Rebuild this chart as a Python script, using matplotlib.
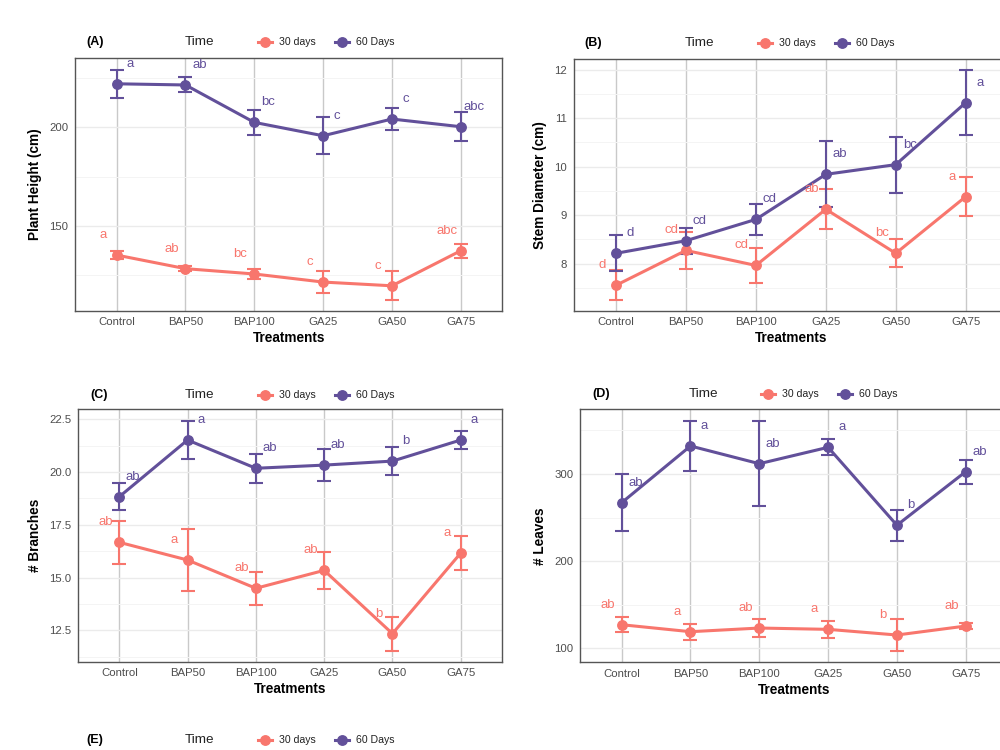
import matplotlib
matplotlib.use('Agg')
import matplotlib.pyplot as plt
from matplotlib.lines import Line2D
from matplotlib.ticker import MultipleLocator

plt.rcParams['font.family'] = ['Liberation Sans', 'DejaVu Sans']

treatments = ['Control', 'BAP50', 'BAP100', 'GA25', 'GA50', 'GA75']
series_names = ['30 days', '60 Days']

height_30 = [135.1, 128.2, 125.5, 121.4, 119.5, 137.3]
height_30_se = [2.0, 1.4, 2.7, 5.5, 7.4, 3.5]
height_60 = [222.1, 221.5, 202.5, 195.7, 204.2, 200.3]
height_60_se = [7.0, 3.8, 6.5, 9.3, 5.8, 7.4]
height_30_let = ['a', 'ab', 'bc', 'c', 'c', 'abc']
height_60_let = ['a', 'ab', 'bc', 'c', 'c', 'abc']

stem_30 = [7.55, 8.27, 7.96, 9.12, 8.21, 9.38]
stem_30_se = [0.31, 0.39, 0.37, 0.41, 0.29, 0.41]
stem_60 = [8.21, 8.47, 8.91, 9.84, 10.04, 11.32]
stem_60_se = [0.37, 0.27, 0.32, 0.68, 0.58, 0.67]
stem_30_let = ['d', 'cd', 'cd', 'ab', 'bc', 'a']
stem_60_let = ['d', 'cd', 'cd', 'ab', 'bc', 'a']

branch_30 = [16.67, 15.83, 14.49, 15.34, 12.34, 16.16]
branch_30_se = [1.02, 1.45, 0.77, 0.87, 0.80, 0.80]
branch_60 = [18.83, 21.52, 20.18, 20.33, 20.52, 21.52]
branch_60_se = [0.65, 0.90, 0.70, 0.75, 0.67, 0.43]
branch_30_let = ['ab', 'a', 'ab', 'ab', 'b', 'a']
branch_60_let = ['ab', 'a', 'ab', 'ab', 'b', 'a']

leaves_30 = [127.1, 119.1, 123.3, 121.8, 115.3, 125.6]
leaves_30_se = [8.6, 9.0, 10.0, 9.7, 18.0, 3.4]
leaves_60 = [267.1, 332.1, 311.8, 330.6, 241.2, 302.7]
leaves_60_se = [33.0, 29.0, 48.7, 9.0, 18.0, 13.8]
leaves_30_let = ['ab', 'a', 'ab', 'a', 'b', 'ab']
leaves_60_let = ['ab', 'a', 'ab', 'a', 'b', 'ab']

C30 = '#F8766D'
C60 = '#62509A'

W, H = 1000, 750
fig = plt.figure(figsize=(10, 7.5), dpi=100)


def px_rect(left, top, right, bottom):
    return [left / W, 1 - bottom / H, (right - left) / W, (bottom - top) / H]


def panel(rect, m30, s30, l30, m60, s60, l60, ylabel, ylim, major, minor):
    ax = fig.add_axes(rect)
    x = list(range(len(treatments)))
    for m, s, lets, c, dx in ((m30, s30, l30, C30, -0.2), (m60, s60, l60, C60, 0.2)):
        ax.errorbar(x, m, yerr=s, color=c, lw=2.2, marker='o', ms=6.8,
                    elinewidth=1.5, capsize=4.8, capthick=1.5, zorder=3)
        for i, t in enumerate(lets):
            ax.annotate(t, (i + dx, m[i]), xytext=(0, 14.4), textcoords='offset points',
                        ha='center', va='center', color=c, fontsize=9.5, zorder=4)
    ax.set_xlim(-0.6, len(treatments) - 0.4)
    ax.set_ylim(*ylim)
    ax.set_xticks(x)
    ax.set_xticklabels(treatments)
    ax.yaxis.set_major_locator(MultipleLocator(major))
    ax.yaxis.set_minor_locator(MultipleLocator(minor))
    ax.tick_params(which='both', length=0, colors='#4D4D4D', labelsize=8.2)
    ax.tick_params(axis='x', pad=4.5)
    ax.tick_params(axis='y', pad=5)
    ax.xaxis.grid(True, which='major', color='#C9C9C9', lw=1.0)
    ax.yaxis.grid(True, which='major', color='#EBEBEB', lw=1.0)
    ax.yaxis.grid(True, which='minor', color='#F4F4F4', lw=0.7)
    ax.set_axisbelow(True)
    for sp in ax.spines.values():
        sp.set_color('#555555')
        sp.set_linewidth(1.0)
    ax.set_xlabel('Treatments', fontsize=9.8, fontweight='bold', labelpad=3)
    ax.set_ylabel(ylabel, fontsize=9.8, fontweight='bold', labelpad=5)
    return ax


panel(px_rect(75.4, 58, 502, 311), height_30, height_30_se, height_30_let,
      height_60, height_60_se, height_60_let, 'Plant Height (cm)', (106.7, 235.2), 50, 25)
panel(px_rect(574, 58.5, 1007.7, 311), stem_30, stem_30_se, stem_30_let,
      stem_60, stem_60_se, stem_60_let, 'Stem Diameter (cm)', (7.02, 12.23), 1, 0.5)
panel(px_rect(78.3, 409, 501.7, 661.7), branch_30, branch_30_se, branch_30_let,
      branch_60, branch_60_se, branch_60_let, '# Branches', (11.01, 22.99), 2.5, 1.25)
panel(px_rect(580.4, 409.3, 1007, 662.3), leaves_30, leaves_30_se, leaves_30_let,
      leaves_60, leaves_60_se, leaves_60_let, '# Leaves', (84, 374.2), 100, 50)


def header(label, lab_x, time_x, mk_x, y):
    fy = 1 - y / H
    fig.text(lab_x / W, fy, label, fontsize=9, fontweight='bold', ha='left', va='center')
    fig.text(time_x / W, fy, 'Time', fontsize=9.7, ha='left', va='center', color='#222222')
    for k, (name, c) in enumerate(zip(series_names, (C30, C60))):
        cx = mk_x + 77 * k
        fig.add_artist(Line2D([(cx - 7) / W, (cx + 7) / W], [fy, fy], color=c, lw=2.2,
                              transform=fig.transFigure))
        fig.add_artist(Line2D([cx / W], [fy], color=c, marker='o', ms=6.8,
                              transform=fig.transFigure))
        fig.text((cx + 14) / W, fy, name, fontsize=7.6, ha='left', va='center', color='#222222')


header('(A)', 86, 185, 265, 42)
header('(B)', 584, 685, 765, 43)
header('(C)', 90, 185, 265, 395)
header('(D)', 592, 689, 768, 394)
header('(E)', 86, 185, 265, 740)

fig.savefig('out.png', dpi=100, facecolor='white')
